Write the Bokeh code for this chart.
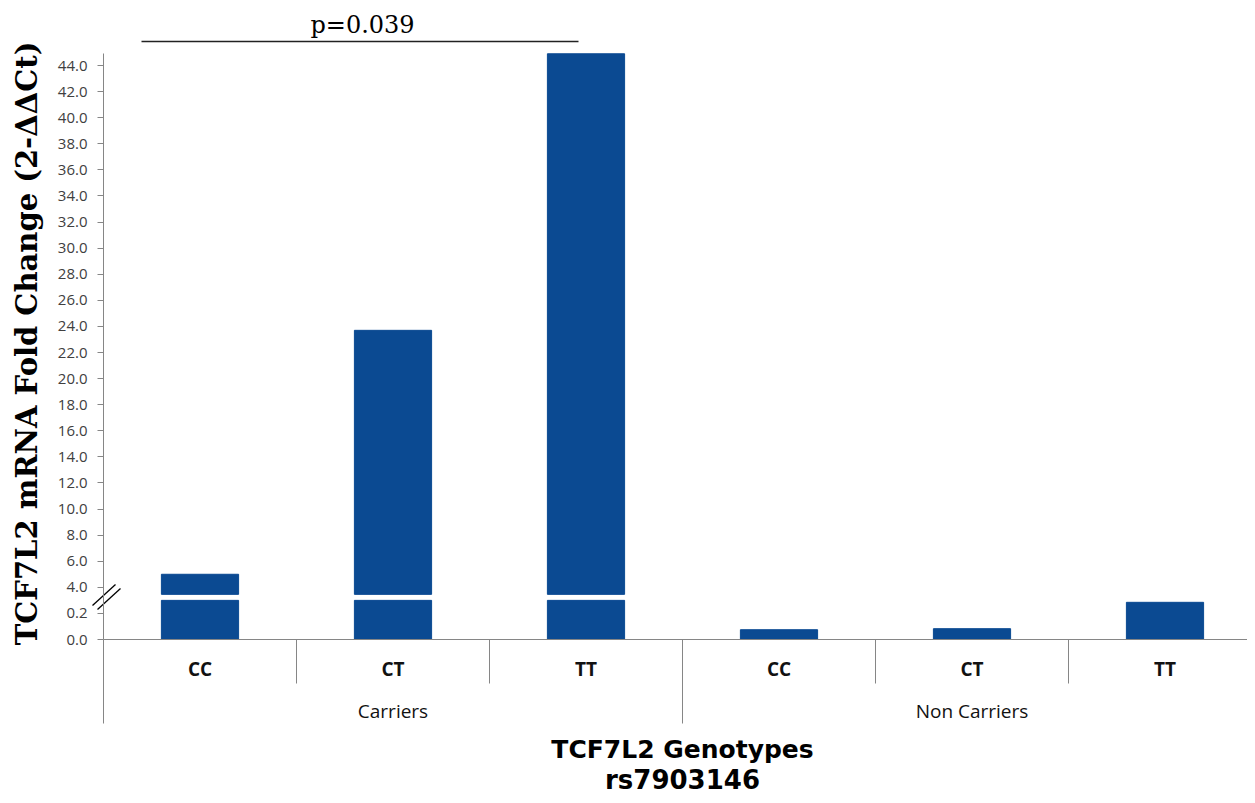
import math
from bokeh.plotting import figure
from bokeh.models import Range1d, LinearAxis, FixedTicker, ColumnDataSource
from bokeh.embed import file_html
from bokeh.resources import INLINE
from bokeh.core.properties import value

# ---------------- data ----------------
groups = ["Carriers", "Non Carriers"]
genotypes = ["CC", "CT", "TT"]
carriers_fold = [5.0, 23.7, 44.9]
noncarriers_fold = [0.075, 0.083, 0.285]
y_tick_values = [0.0, 0.2] + [float(v) for v in range(4, 46, 2)]
p_value_text = "p=0.039"
x_title = "TCF7L2 Genotypes"
x_subtitle = "rs7903146"
y_title = "TCF7L2 mRNA Fold Change (2-\u0394\u0394Ct)"

# ---------------- broken-axis scale ----------------
LOW_STEP = 0.2      # value per display unit below the break
HIGH_BASE = 4.0     # first value above the break (display 2)
HIGH_STEP = 2.0     # value per display unit above the break
GAP_LO, GAP_HI = 1.5, 1.73   # white gap in display units


def to_disp(v):
    if v <= 0.3:
        return v / LOW_STEP
    return 2.0 + (v - HIGH_BASE) / HIGH_STEP


# pixel geometry (picture coordinates) used only to place annotations
PX_X = 193.0
PX_Y = 26.09
X0, Y0 = 103.0, 639.0


def X(wx):
    return (wx - X0) / PX_X


def Y(wy):
    return (Y0 - wy) / PX_Y


W, H = 1247, 795
p = figure(width=W, height=H, output_backend="svg", toolbar_location=None,
           x_range=Range1d(X(0), X(W)), y_range=Range1d(Y(H), Y(0)),
           x_axis_location=None, y_axis_location=None,
           min_border=0, min_border_left=0, min_border_right=0,
           min_border_top=0, min_border_bottom=0)
p.outline_line_color = None
p.grid.visible = False
p.background_fill_color = "white"

BLUE = "#0b4a92"
AXIS = "#868686"

# ---------------- bars ----------------
values = carriers_fold + noncarriers_fold
n = len(values)
xs = [i + 0.5 for i in range(n)]
tops = [to_disp(v) for v in values]

low_top = [min(t, GAP_LO) if t > GAP_HI else t for t in tops]
p.vbar(x=xs, bottom=0, top=low_top, width=0.4, fill_color=BLUE, line_color=BLUE)
up_x = [x for x, t in zip(xs, tops) if t > GAP_HI]
up_t = [t for t in tops if t > GAP_HI]
p.vbar(x=up_x, bottom=GAP_HI, top=up_t, width=0.4, fill_color=BLUE, line_color=BLUE)

# ---------------- axes ----------------
yticks = [to_disp(v) for v in y_tick_values]
yaxis = LinearAxis(fixed_location=0, bounds=(0, to_disp(carriers_fold[-1])),
                   ticker=FixedTicker(ticks=yticks, minor_ticks=[]))
yaxis.major_label_overrides = {t: f"{v:.1f}" for t, v in zip(yticks, y_tick_values)}
yaxis.axis_line_color = AXIS
yaxis.major_tick_line_color = AXIS
yaxis.major_tick_out = 6
yaxis.major_tick_in = 0
yaxis.minor_tick_line_color = None
yaxis.major_label_standoff = 10
yaxis.major_label_text_font = "Open Sans"
yaxis.major_label_text_font_size = "15px"
yaxis.major_label_text_color = "#404040"
p.add_layout(yaxis, "left")

# category axis: short separators between genotypes, long ones between groups
sep_axis = LinearAxis(fixed_location=0, bounds=(0, n),
                      ticker=FixedTicker(ticks=[], minor_ticks=[1, 2, 4, 5]))
sep_axis.axis_line_color = AXIS
sep_axis.major_tick_line_color = None
sep_axis.minor_tick_line_color = AXIS
sep_axis.minor_tick_out = 44
sep_axis.minor_tick_in = 0
p.add_layout(sep_axis, "below")

grp_axis = LinearAxis(fixed_location=0, bounds=(0, n),
                      ticker=FixedTicker(ticks=[], minor_ticks=[0, 3, 6]))
grp_axis.axis_line_color = None
grp_axis.major_tick_line_color = None
grp_axis.minor_tick_line_color = AXIS
grp_axis.minor_tick_out = 84
grp_axis.minor_tick_in = 0
p.add_layout(grp_axis, "below")

# ---------------- category labels ----------------
cat_src = ColumnDataSource(dict(x=xs, y=[Y(668)] * n, t=genotypes * 2))
p.text(x="x", y="y", text="t", source=cat_src, text_align="center",
       text_baseline="middle", text_font=value("Open Sans"),
       text_font_style="bold", text_font_size="19px", text_color="#111111")
grp_src = ColumnDataSource(dict(x=[1.5, 4.5], y=[Y(710)] * 2, t=groups))
p.text(x="x", y="y", text="t", source=grp_src, text_align="center",
       text_baseline="middle", text_font=value("Open Sans"),
       text_font_size="19px", text_color="#111111")

# ---------------- titles ----------------
p.text(x=[3.0], y=[Y(749)], text=[x_title], text_align="center",
       text_baseline="middle", text_font=value("DejaVu Sans"),
       text_font_style="bold", text_font_size="25px", text_color="black")
p.text(x=[3.0], y=[Y(779)], text=[x_subtitle], text_align="center",
       text_baseline="middle", text_font=value("DejaVu Sans"),
       text_font_style="bold", text_font_size="26px", text_color="black")
p.text(x=[X(26)], y=[Y(343)], text=[y_title], angle=math.pi / 2,
       text_align="center", text_baseline="middle",
       text_font=value("DejaVu Serif"), text_font_style="bold",
       text_font_size="29px", text_color="black")

# ---------------- axis break marks ----------------
p.segment(x0=[X(92), X(97)], y0=[Y(605), Y(609)],
          x1=[X(115), X(120)], y1=[Y(584), Y(588)],
          line_color="black", line_width=1.3)

# ---------------- significance bracket ----------------
p.segment(x0=[X(141)], y0=[Y(41)], x1=[X(578)], y1=[Y(41)],
          line_color="#222222", line_width=1.5)
p.text(x=[X(362)], y=[Y(24)], text=[p_value_text], text_align="center",
       text_baseline="middle", text_font=value("DejaVu Serif"),
       text_font_size="24px", text_color="black")

open("out.html", "w").write(file_html(p, INLINE))
